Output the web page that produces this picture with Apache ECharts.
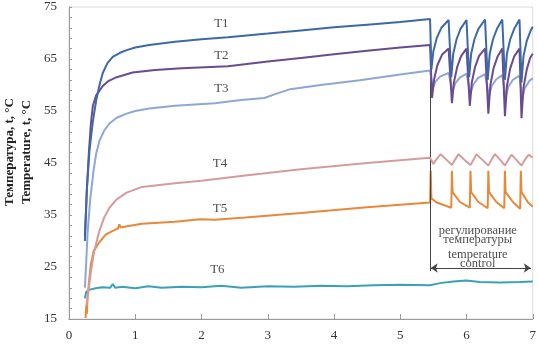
<!DOCTYPE html>
<html>
<head>
<meta charset="utf-8">
<script src="https://cdn.jsdelivr.net/npm/echarts@6/dist/echarts.min.js"></script>
<style>
html,body{margin:0;padding:0;background:#fff;}
#chart{width:539px;height:350px;}
</style>
</head>
<body>
<div id="chart"></div>
<script>
// ---- data (x: time, y: temperature °C) ----
const xTicks = [0, 1, 2, 3, 4, 5, 6, 7];
const yTicks = [15, 25, 35, 45, 55, 65, 75];
const seriesNames = ['T1', 'T2', 'T3', 'T4', 'T5', 'T6'];

const t1 = [[0.24,30],[0.27,40],[0.31,47.5],[0.36,53],[0.41,57],[0.46,60],[0.51,62.3],[0.58,64.2],[0.66,65.4],[0.77,66.2],[0.87,66.7],[1.0,67.2],[1.21,67.7],[1.6,68.3],[2.0,68.8],[2.4,69.2],[3.0,69.9],[3.5,70.5],[4.0,71.1],[4.5,71.6],[5.0,72.1],[5.45,72.7],
  [5.47,63],[5.50,66.5],[5.55,69],[5.62,71],[5.73,72.5],
  [5.77,61.5],[5.80,66],[5.85,68.8],[5.91,70.8],[6.00,72.5],
  [6.04,61.5],[6.07,66],[6.12,68.8],[6.18,70.8],[6.28,72.6],
  [6.32,61],[6.35,66],[6.40,68.8],[6.46,70.8],[6.54,72.6],
  [6.58,61],[6.61,66],[6.66,68.8],[6.72,70.8],[6.80,72.6],
  [6.83,60.5],[6.86,65.5],[6.91,68.5],[6.97,70.5],[7.0,71.2]];

const t2 = [[0.24,31],[0.27,40],[0.30,47],[0.33,52.5],[0.36,56],[0.41,58],[0.51,59.8],[0.60,60.8],[0.72,61.5],[0.96,62.4],[1.3,62.9],[1.7,63.2],[2.4,63.6],[3.0,64.5],[3.5,65.2],[4.0,65.9],[4.5,66.6],[5.0,67.2],[5.45,67.7],
  [5.48,57.5],[5.51,61],[5.56,63.8],[5.63,65.8],[5.73,67],
  [5.78,56.5],[5.81,60.5],[5.86,63.5],[5.92,65.6],[6.00,67],
  [6.05,56],[6.08,60.5],[6.13,63.5],[6.19,65.6],[6.28,67],
  [6.33,54.5],[6.36,60],[6.41,63.3],[6.47,65.5],[6.54,67],
  [6.58,54],[6.61,59.8],[6.66,63.2],[6.72,65.5],[6.80,67],
  [6.83,53.6],[6.86,59.5],[6.91,63],[6.96,65.2],[7.0,66]];

const t3 = [[0.24,21],[0.26,26],[0.28,31.4],[0.32,38],[0.37,43.5],[0.41,46.8],[0.46,49.3],[0.53,51.2],[0.61,52.6],[0.72,53.7],[0.87,54.5],[1.0,55],[1.21,55.5],[1.6,56],[2.2,56.5],[2.6,57.1],[2.95,57.5],[3.1,58.2],[3.34,59.2],[3.8,60],[4.39,60.9],[5.0,62],[5.45,62.8],
  [5.49,59.3],[5.53,60.6],[5.60,61.6],[5.73,62.3],
  [5.79,58.8],[5.83,60.3],[5.90,61.4],[6.00,62.2],
  [6.06,58.3],[6.10,60],[6.17,61.3],[6.28,62.1],
  [6.34,57.8],[6.38,59.8],[6.45,61.1],[6.54,61.9],
  [6.59,57.6],[6.63,59.6],[6.70,61],[6.80,61.8],
  [6.84,57.4],[6.88,59.4],[6.95,60.8],[7.0,61.3]];

const t4 = [[0.26,17.5],[0.29,20],[0.33,24],[0.38,28],[0.46,32],[0.53,34.5],[0.61,36.4],[0.72,38],[0.87,39.3],[1.1,40.4],[1.6,41.1],[2.0,41.6],[2.66,42.6],[3.5,43.8],[4.5,45],[5.45,46],
  [5.50,44.8],[5.55,45.8],[5.61,46.7],[5.70,45.6],[5.78,44.6],
  [5.83,45.7],[5.88,46.7],[5.97,45.6],[6.06,44.6],
  [6.11,45.7],[6.15,46.7],[6.24,45.6],[6.33,44.5],
  [6.38,45.7],[6.43,46.7],[6.51,45.6],[6.58,44.5],
  [6.63,45.6],[6.68,46.6],[6.76,45.5],[6.83,44.5],
  [6.88,45.6],[6.94,46.6],[7.0,46]];

const t5 = [[0.25,15.2],[0.26,17.5],[0.27,16],[0.28,19],[0.30,22],[0.33,25.5],[0.37,28],[0.46,29.8],[0.55,31.2],[0.61,31.6],[0.70,32.2],[0.74,32.4],[0.76,33.2],[0.78,32.6],[0.9,32.9],[1.1,33.3],[1.6,33.7],[1.98,34.2],[2.2,34.1],[2.66,34.5],[3.5,35.4],[4.5,36.5],[5.45,37.4],
  [5.46,43.5],[5.47,38.2],[5.55,37.4],[5.77,36.4],
  [5.78,43.5],[5.79,39.4],[5.90,37.5],[6.05,36.4],
  [6.06,43.5],[6.07,39.4],[6.18,37.5],[6.32,36.3],
  [6.33,43.5],[6.34,39.4],[6.45,37.5],[6.57,36.3],
  [6.58,43.5],[6.59,39.4],[6.70,37.5],[6.81,36.2],
  [6.82,43.5],[6.83,39.4],[6.93,37.4],[7.0,36.6]];

const t6 = [[0.24,19],[0.26,20.2],[0.30,20.6],[0.40,20.9],[0.50,21.1],[0.62,21.0],[0.66,21.7],[0.70,21.0],[0.80,21.2],[1.0,20.9],[1.2,21.3],[1.4,21.0],[1.7,21.2],[2.0,21.1],[2.3,21.4],[2.6,21.0],[3.0,21.3],[3.4,21.2],[3.8,21.4],[4.2,21.3],[4.6,21.5],[5.0,21.6],[5.45,21.5],[5.6,21.9],[5.8,22.2],[6.0,22.4],[6.2,22.1],[6.5,22.0],[6.8,22.1],[7.0,22.2]];

const seriesData = [t1, t2, t3, t4, t5, t6];

// annotation anchors in data coordinates
const curveLabels = [[2.3,71.9],[2.3,65.7],[2.3,59.4],[2.28,44.9],[2.28,36.2],[2.24,24.6]];
const controlStart = 5.45;
const controlEnd = 6.97;
const controlTop = 72.7;
const controlBottom = 24.2;
const arrowY = 24.8;
const controlText = ['регулирование', 'температуры', 'temperature', 'control'];
const controlTextPos = [[6.17,32.0],[6.17,30.2],[6.17,27.3],[6.17,25.6]];

// ---- styles ----
const colors = ['#3d6aa6', '#6b4b90', '#8fa7d5', '#d69c9d', '#e8883a', '#3aa1b6'];
const serif = 'Liberation Serif';

const chart = echarts.init(document.getElementById('chart'));

const lineSeries = seriesNames.map((n, i) => ({
  name: n,
  type: 'line',
  data: seriesData[i],
  showSymbol: false,
  symbol: 'none',
  lineStyle: { color: colors[i], width: 2 },
  itemStyle: { color: colors[i] },
  z: 3 + (5 - i),
  silent: true
}));

lineSeries.push({
  type: 'scatter',
  symbolSize: 0,
  silent: true,
  data: curveLabels.map((p, i) => ({ value: p, name: seriesNames[i] })),
  label: {
    show: true, position: 'inside', formatter: '{b}',
    fontFamily: serif, fontSize: 13, color: '#222'
  },
  z: 10
});

lineSeries.push({
  type: 'scatter',
  symbolSize: 0,
  silent: true,
  data: controlTextPos.map((p, i) => ({ value: p, name: controlText[i] })),
  label: {
    show: true, position: 'inside', formatter: '{b}',
    fontFamily: serif, fontSize: 12.5, color: '#1a1a1a'
  },
  markLine: {
    silent: true,
    animation: false,
    label: { show: false },
    lineStyle: { color: '#444', width: 1, type: 'solid' },
    data: [
      [{ coord: [controlStart, controlTop], symbol: 'none' }, { coord: [controlStart, controlBottom], symbol: 'none' }],
      [{ coord: [controlStart + 0.01, arrowY], symbol: 'arrow', symbolSize: 7 }, { coord: [controlEnd, arrowY], symbol: 'arrow', symbolSize: 7 }]
    ]
  },
  z: 10
});

chart.setOption({
  animation: false,
  backgroundColor: '#ffffff',
  grid: { left: 69, right: 1, top: 7, bottom: 31, show: true, borderColor: '#d9d9d9', borderWidth: 1, backgroundColor: 'transparent' },
  xAxis: {
    type: 'value', min: 0, max: 7, interval: 1,
    axisLine: { show: true, lineStyle: { color: '#9a9a9a' } },
    axisTick: { show: true, inside: true, length: 5, lineStyle: { color: '#9a9a9a' } },
    axisLabel: { fontFamily: serif, fontSize: 13, color: '#333', margin: 10, showMaxLabel: true },
    splitLine: { show: false }
  },
  yAxis: {
    type: 'value', min: 15, max: 75, interval: 5,
    axisLine: { show: true, lineStyle: { color: '#9a9a9a' } },
    axisTick: { show: true, inside: true, length: 3, customValues: [15,17,19,21,23,25,27,29,31,33,35,37,39,41,43,45,47,49,51,53,55,57,59,61,63,65,67,69,71,73,75], lineStyle: { color: '#9a9a9a' } },
    axisLabel: { fontFamily: serif, fontSize: 13, color: '#333', margin: 12, customValues: yTicks },
    splitLine: { show: false }
  },
  graphic: [
    { type: 'text', x: 10, y: 152, rotation: Math.PI / 2, style: { text: 'Температура, t, °C', font: 'bold 13px "Liberation Serif"', fill: '#222', align: 'center', verticalAlign: 'middle' } },
    { type: 'text', x: 27, y: 152, rotation: Math.PI / 2, style: { text: 'Temperature, t, °C', font: 'bold 13px "Liberation Serif"', fill: '#222', align: 'center', verticalAlign: 'middle' } }
  ],
  series: lineSeries
});
</script>
</body>
</html>
